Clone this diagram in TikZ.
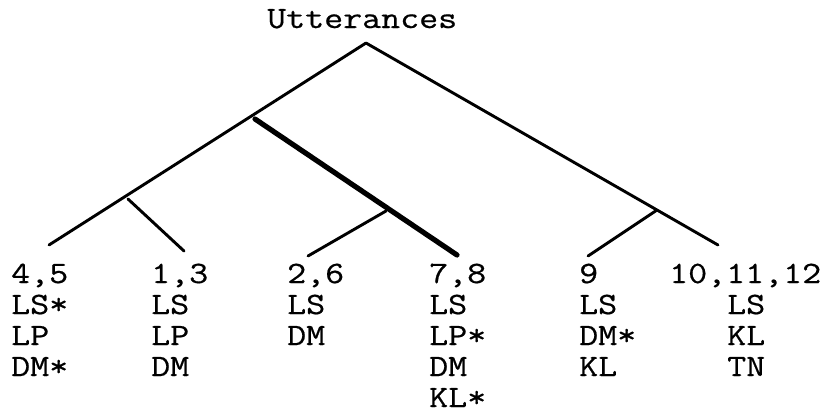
\documentclass[tikz,border=0pt]{standalone}
\usepackage{fontspec}
\setmonofont{Latin Modern Mono}[FakeStretch=1.19,FakeBold=0.6]
\newcommand\colstack[1]{\begin{tabular}[t]{@{}l@{}}#1\end{tabular}}
\begin{document}
\begin{tikzpicture}[x=1pt,y=-1pt,
  lbl/.style={anchor=base west,inner sep=0pt,font=\fontsize{31}{31}\ttfamily},
  edge/.style={line width=2.9pt,line cap=round,line join=round},
  heavy/.style={line width=5.2pt,line cap=round}]
\useasboundingbox (0,0) rectangle (828,413);
\node[lbl] (title) at (267,28) {Utterances};
% tree points
\coordinate (root) at (366,43);
\coordinate (leafL) at (49,245);
\coordinate (leafR) at (718,245);
\coordinate (ja) at (255,119);
\coordinate (jb) at (128,199);
\coordinate (jc) at (386,211);
\coordinate (jd) at (657,210);
\coordinate (e13) at (184,251);
\coordinate (e26) at (308,256);
\coordinate (e78) at (457,255);
\coordinate (e9) at (588,256);
\draw[edge] (leafL) -- (root) -- (leafR);
\draw[edge] (jb) -- (e13);
\draw[heavy] (ja) -- (e78);
\draw[edge] (jc) -- (e26);
\draw[edge] (jd) -- (e9);
% leaves
\node[lbl] (c1) at (11,283) {\colstack{4,5\\LS*\\LP\\DM*}};
\node[lbl] (c2) at (151,283) {\colstack{1,3\\LS\\LP\\DM}};
\node[lbl] (c3) at (287,283) {\colstack{2,6\\LS\\DM}};
\node[lbl] (c4) at (429,283) {\colstack{7,8\\LS\\LP*\\DM\\KL*}};
\node[lbl] (c5) at (579,283) {\colstack{9\\LS\\DM*\\KL}};
\node[lbl] (c6) at (669,283) {10,11,12};
\node[lbl] (c6b) at (727,314) {\colstack{LS\\KL\\TN}};
\end{tikzpicture}
\end{document}
